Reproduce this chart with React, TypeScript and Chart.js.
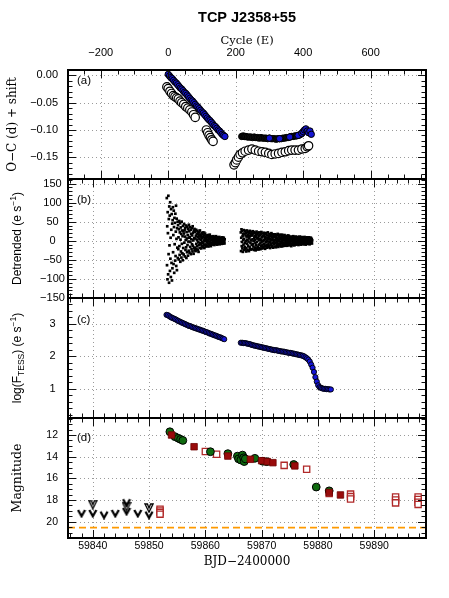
import React, { useEffect, useRef } from "react";
import { Chart, registerables } from "chart.js";

Chart.register(...registerables);

// ---------------- text ----------------
const TITLE = "TCP J2358+55";
const TOP_AXIS_TITLE = "Cycle (E)";
const BOTTOM_AXIS_TITLE = "BJD\u22122400000";
const A_LABEL = "O\u2212C (d) + shift";
const D_LABEL = "Magnitude";
const B_LABEL_PARTS = ["Detrended (e s", "\u22121", ")"];
const C_LABEL_PARTS = ["log(F", "TESS", ") (e s", "\u22121", ")"];
const LETTERS = ["(a)", "(b)", "(c)", "(d)"];

// ---------------- axes ----------------
const BJD_MIN = 59835.6;
const BJD_MAX = 59899.2;
const CYCLE_MIN = -297;
const CYCLE_MAX = 764;
const CYCLE_TICKS = [-200, 0, 200, 400, 600];
const BJD_TICKS = [59840, 59850, 59860, 59870, 59880, 59890];
const A_Y_TICKS = [0, -0.05, -0.1, -0.15];
const B_Y_TICKS = [-150, -100, -50, 0, 50, 100, 150];
const C_Y_TICKS = [1, 2, 3];
const D_Y_TICKS = [12, 14, 16, 18, 20];

// ---------------- panel (a): O-C ----------------
const A_BLUE_E = [0, 4, 8, 12, 16, 20, 24, 28, 32, 36, 40, 44, 48, 52, 56, 60, 64, 68, 72, 76, 80, 84, 88, 92, 96, 100, 104, 108, 112, 116, 120, 124, 128, 132, 136, 140, 144, 148, 152, 156, 160, 164, 168,
  300, 330, 360, 385, 396, 400, 404, 408, 412, 416, 420, 424];
const A_BLUE_OC = [0.002, -0.001, -0.004, -0.006, -0.009, -0.012, -0.014, -0.017, -0.02, -0.023, -0.025, -0.028, -0.031, -0.033, -0.036, -0.039, -0.042, -0.045, -0.047, -0.05, -0.053, -0.056, -0.058, -0.061, -0.064, -0.067, -0.069, -0.072, -0.075, -0.078, -0.081, -0.083, -0.086, -0.089, -0.092, -0.094, -0.097, -0.1, -0.102, -0.105, -0.108, -0.11, -0.112,
  -0.115, -0.116, -0.113, -0.11, -0.106, -0.103, -0.1, -0.098, -0.102, -0.105, -0.102, -0.108];
const A_BLACK_E = [218, 222, 226, 230, 235, 240, 245, 250, 255, 260, 265, 270, 275, 280, 285, 290, 295, 300, 305, 310, 315, 320, 325, 330, 335, 340, 345, 350, 355, 360, 365, 370, 375, 380, 385, 390, 395];
const A_BLACK_OC = [-0.112, -0.111, -0.112, -0.112, -0.113, -0.113, -0.113, -0.114, -0.113, -0.114, -0.114, -0.115, -0.114, -0.115, -0.115, -0.115, -0.116, -0.115, -0.116, -0.116, -0.116, -0.117, -0.116, -0.116, -0.116, -0.115, -0.115, -0.114, -0.114, -0.113, -0.112, -0.112, -0.111, -0.111, -0.11, -0.109, -0.107];
const A_OPEN_E = [-4, 0, 5, 10, 15, 20, 25, 30, 35, 40, 46, 52, 58, 64, 70, 75, 80,
  113, 117, 121, 125, 129, 133,
  195, 199, 203, 208, 213, 220, 228, 238, 248, 258, 268, 278, 288, 298, 307, 317, 327, 337, 347, 357, 366, 376, 386, 396, 406, 412, 416];
const A_OPEN_OC = [-0.021, -0.024, -0.029, -0.033, -0.037, -0.039, -0.041, -0.043, -0.047, -0.05, -0.053, -0.057, -0.06, -0.063, -0.067, -0.072, -0.077,
  -0.1, -0.105, -0.11, -0.114, -0.118, -0.121,
  -0.164, -0.16, -0.155, -0.15, -0.145, -0.142, -0.139, -0.137, -0.135, -0.137, -0.139, -0.14, -0.141, -0.143, -0.145, -0.144, -0.143, -0.141, -0.14, -0.138, -0.137, -0.137, -0.137, -0.135, -0.134, -0.131, -0.129];

// ---------------- panel (b): detrended flux (regular TESS cadence) ----------------
const B_STEP = 0.04;
const B_SEG1_START = 59853.15;
const B_SEG1 = [
  112, -64, 38, -101, 75, 20, -88, 118, -35, 57, -110, 90, -12, 66, -79, 101, -47, 8, -95, 83, 29, -58, 70, -104, 45,
  -72, 54, 88, -30, 15, -61, 79, 36, -84, 60, -9, 47, -52, 71, -40, 24, 92, -66, 5, 58, -77, 33, -18, 50, -45,
  41, -22, 9, -49, 30, 52, -14, -37, 22, 46, -55, 3, 35, -28, 18, -44, 50, -8, 27, -33, 12, -51, 39, -19, 25,
  -36, 19, 44, -5, 28, -41, 11, 33, -24, 2, 40, -17, -45, 23, 6, -30, 37, -11, 15, -39, 31, -2, -26, 42, 8,
  25, -31, 10, 36, -16, -3, 29, -35, 18, 4, -22, 33, -9, 14, -28, 38, -13, 21, 1, -34, 26, -19, 7, 31, -25,
  -18, 24, 6, -27, 13, 29, -8, -21, 17, 2, -14, 26, -24, 9, 20, -4, -29, 15, 22, -11, 4, -19, 27, -6, 11,
  16, -9, 3, -20, 12, 21, -14, 7, -3, 18, -17, 10, -6, 22, -12, 1, 14, -19, 8, -1, 19, -10, 5, -15, 11,
  -11, 8, 14, -4, 2, -13, 10, -7, 15, 0, -15, 6, 12, -9, 4, -2, 16, -12, 7, -5, 11, -14, 1, 9, -8,
  9, -6, 2, 11, -10, 5, -3, 12, -8, 0, 7, -11, 4, 10, -5, -1, 8, -9, 3, 12, -7, 1, -4, 6, -10,
  -7, 5, 9, -2, 1, -8, 6, -4, 10, 0, -9, 3, 7, -6, 2, -1, 8, -5, 4, -8, 6, -3, 9, -7, 1,
  5, -6, 2, 8, -4, 0, -7, 4,
];
const B_SEG2_START = 59866.3;
const B_SEG2 = [
  22, -27, 8, 30, -14, -3, 25, -20, 12, -29, 17, 2, -10, 28, -24, 5, 19, -16, -6, 26, -22, 14, -1, 21, -28,
  -19, 11, 27, -8, 3, -25, 16, 24, -13, -2, 20, -27, 9, 6, -17, 26, -21, 13, -5, 18, -23, 1, 23, -11, 15,
  14, -22, 4, 25, -9, 19, -15, -1, 23, -24, 8, 12, -18, 2, 21, -6, -25, 16, 10, -12, 24, -3, -20, 6, 17,
  -16, 20, 7, -23, 13, 1, -10, 22, -19, 5, 15, -7, -22, 18, 3, -14, 23, -4, 9, -20, 11, -12, 19, -1, -17,
  12, -19, 2, 21, -8, 16, -13, 5, -21, 9, 18, -4, -15, 20, 1, -11, 14, -18, 7, -2, 22, -16, 4, -9, 13,
  -14, 9, 18, -3, 5, -19, 12, 0, -11, 16, -7, 20, -16, 3, 10, -13, 6, 17, -5, -18, 14, 1, -9, 11, -2,
  10, -15, 3, 17, -6, 12, -17, 1, 8, -10, 15, -4, -13, 6, 18, -8, 2, -16, 11, -1, 14, -12, 5, -7, 16,
  -12, 7, 14, -2, 4, -15, 9, -6, 16, 0, -10, 12, -14, 3, 8, -5, 13, -11, 1, 15, -8, 6, -13, 10, -3,
  9, -11, 2, 13, -5, 7, -13, 0, 11, -8, 4, 14, -10, 1, -3, 12, -12, 6, -6, 10, -1, 8, -9, 3, -14,
  -9, 6, 11, -2, 3, -11, 8, -5, 12, 0, -8, 5, 10, -12, 2, -4, 9, -7, 1, 11, -10, 4, -3, 7, -6,
  7, -9, 1, 10, -4, 5, -11, 0, 9, -6, 3, 11, -8, 2, -2, 8, -10, 4, -5, 10, -1, 6, -7, 3, -9,
  -7, 5, 9, -1, 2, -9, 6, -4, 10, 0, -6, 4, 8, -10, 1, -3, 7, -5, 3, 9, -8, 2, -2, 6, -4,
  6, -8, 1, 9, -3, 4, -9, 0, 7, -5, 2, 8, -6, 3, -2, 5, -7, 1,
];

// ---------------- panel (c): log TESS flux ----------------
const C_STEP = 0.25;
const C_SEG1_START = 59853.1;
const C_SEG1 = [3.28, 3.27, 3.24, 3.21, 3.19, 3.17, 3.15, 3.13, 3.1, 3.08, 3.06, 3.04, 3.02, 3.0, 2.98, 2.96, 2.94, 2.93, 2.91, 2.89, 2.88, 2.86, 2.85, 2.83, 2.82, 2.8, 2.79, 2.77, 2.75, 2.74, 2.72, 2.7, 2.69, 2.67, 2.65, 2.64, 2.62, 2.6, 2.59, 2.57, 2.55, 2.53];
const C_SEG2_START = 59866.3;
const C_SEG2 = [2.42, 2.42, 2.41, 2.41, 2.4, 2.39, 2.38, 2.37, 2.35, 2.34, 2.33, 2.32, 2.31, 2.3, 2.29, 2.28, 2.27, 2.26, 2.25, 2.24, 2.23, 2.22, 2.21, 2.2, 2.19, 2.19, 2.18, 2.17, 2.16, 2.15, 2.15, 2.14, 2.13, 2.12, 2.11, 2.11, 2.1, 2.09, 2.08, 2.07, 2.06, 2.05, 2.04, 2.03, 2.02, 2.0, 1.97, 1.94, 1.9, 1.84, 1.75, 1.65, 1.52, 1.36, 1.22, 1.11, 1.05, 1.03, 1.01, 1.0, 1.0, 0.99, 0.99, 0.98, 0.98];

// ---------------- panel (d): magnitudes ----------------
const D_RED_T = [59854.0, 59858.0, 59864.0, 59868.0, 59870.0, 59871.0, 59872.0, 59875.9, 59882.0, 59884.0];
const D_RED_M = [12.0, 13.08, 13.94, 14.24, 14.37, 14.45, 14.55, 14.85, 17.3, 17.53];
const D_GREEN_T = [59853.7, 59854.6, 59855.2, 59855.6, 59856.0, 59860.9, 59864.0, 59865.7, 59865.9, 59866.3, 59866.6, 59866.8, 59866.9, 59867.1, 59868.8, 59870.2, 59870.9, 59875.7, 59879.7, 59882.0];
const D_GREEN_M = [11.7, 12.15, 12.3, 12.4, 12.5, 13.54, 13.72, 13.95, 14.2, 14.3, 13.85, 14.1, 14.45, 14.2, 14.15, 14.42, 14.46, 14.72, 16.8, 17.15];
const D_OPEN_T = [59851.95, 59851.95, 59851.95, 59851.95, 59860.0, 59862.0, 59874.0, 59878.0, 59882.0, 59885.8, 59885.8, 59885.8, 59893.8, 59893.8, 59893.8, 59897.8, 59897.8, 59897.8, 59897.8];
const D_OPEN_M = [18.85, 19.0, 19.15, 19.3, 13.52, 13.78, 14.8, 15.15, 17.4, 17.45, 17.68, 17.9, 17.72, 17.99, 18.26, 17.72, 17.95, 18.2, 18.4];
const D_UL_T = [59838.0, 59840.0, 59842.0, 59844.0, 59846.0, 59846.0, 59848.0, 59850.0];
const D_UL_M = [19.19, 19.19, 19.34, 19.19, 18.2, 19.0, 19.19, 19.34];
const D_UL_OPEN_T = [59840.0, 59846.0, 59850.0];
const D_UL_OPEN_M = [18.42, 18.6, 18.73];
const D_LIMIT_MAG = 20.55;

// ---------------- layout ----------------
const W = 449;
const H = 598;
const PLOT_L = 68;
const PLOT_R = 426;
const EDGES = [70, 179, 298, 418, 538];

const SANS = "'Liberation Sans', Arial, sans-serif";
const NARROW = "'Liberation Sans Narrow', 'Arial Narrow', 'Liberation Sans', sans-serif";
const SERIF = "'DejaVu Serif', serif";

const minus = (s: string) => s.replace(/-/g, "\u2212");

const pts = (xs: number[], ys: number[]) => xs.map((x, i) => ({ x, y: ys[i] }));
const cadence = (start: number, step: number, ys: number[]) => ys.map((y, i) => ({ x: start + i * step, y }));

type Seg = { t: string; size: number; dy: number; family: string };

function drawRotRich(ctx: CanvasRenderingContext2D, segs: Seg[], cx: number, cy: number) {
  ctx.save();
  const widths = segs.map((s) => {
    ctx.font = `${s.size}px ${s.family}`;
    return ctx.measureText(s.t).width;
  });
  const total = widths.reduce((a, b) => a + b, 0);
  ctx.translate(cx, cy);
  ctx.rotate(-Math.PI / 2);
  ctx.textAlign = "left";
  ctx.textBaseline = "middle";
  ctx.fillStyle = "#000";
  let x = -total / 2;
  segs.forEach((s, i) => {
    ctx.font = `${s.size}px ${s.family}`;
    ctx.fillText(s.t, x, s.dy);
    x += widths[i];
  });
  ctx.restore();
}

type Deco = {
  xTicks: number[];
  xMinor: number;
  yTicks: number[];
  yMinor: number;
  letter: string;
  letterDy: number;
  label: Seg[];
  labelX: number;
  title?: string;
};

function range(min: number, max: number, step: number) {
  const out: number[] = [];
  const lo = Math.min(min, max);
  const hi = Math.max(min, max);
  for (let k = Math.ceil(lo / step - 1e-9); k * step <= hi + 1e-9; k++) out.push(k * step);
  return out;
}

function decoPlugin(d: Deco) {
  return {
    id: "deco",
    beforeDatasetsDraw(chart: any) {
      const { ctx, chartArea: a } = chart;
      const xs = chart.scales.x;
      const ys = chart.scales.y;
      ctx.save();
      ctx.beginPath();
      ctx.rect(a.left, a.top, a.right - a.left, a.bottom - a.top);
      ctx.clip();
      ctx.strokeStyle = "#9a9a9a";
      ctx.lineWidth = 1;
      ctx.setLineDash([1, 3]);
      ctx.beginPath();
      for (const v of d.xTicks) {
        const p = Math.round(xs.getPixelForValue(v)) + 0.5;
        ctx.moveTo(p, a.top);
        ctx.lineTo(p, a.bottom);
      }
      for (const v of d.yTicks) {
        const p = Math.round(ys.getPixelForValue(v)) + 0.5;
        ctx.moveTo(a.left, p);
        ctx.lineTo(a.right, p);
      }
      ctx.stroke();
      ctx.restore();
    },
    afterDatasetsDraw(chart: any) {
      const { ctx, chartArea: a } = chart;
      const xs = chart.scales.x;
      const ys = chart.scales.y;
      const MAJ = 8;
      const MIN = 4.5;
      ctx.save();
      ctx.strokeStyle = "#111";
      ctx.lineWidth = 1;
      ctx.beginPath();
      const xt = (v: number, len: number) => {
        const p = Math.round(xs.getPixelForValue(v)) + 0.5;
        if (p < a.left || p > a.right) return;
        ctx.moveTo(p, a.top);
        ctx.lineTo(p, a.top + len);
        ctx.moveTo(p, a.bottom);
        ctx.lineTo(p, a.bottom - len);
      };
      const yt = (v: number, len: number) => {
        const p = Math.round(ys.getPixelForValue(v)) + 0.5;
        if (p < a.top || p > a.bottom) return;
        ctx.moveTo(a.left, p);
        ctx.lineTo(a.left + len, p);
        ctx.moveTo(a.right, p);
        ctx.lineTo(a.right - len, p);
      };
      range(xs.min, xs.max, d.xMinor).forEach((v) => xt(v, MIN));
      d.xTicks.forEach((v) => xt(v, MAJ));
      range(ys.min, ys.max, d.yMinor).forEach((v) => yt(v, MIN));
      d.yTicks.forEach((v) => yt(v, MAJ));
      ctx.stroke();
      ctx.lineWidth = 2;
      ctx.strokeStyle = "#000";
      ctx.strokeRect(a.left, a.top, a.right - a.left, a.bottom - a.top);
      ctx.fillStyle = "#000";
      ctx.font = `11.5px ${SANS}`;
      ctx.textAlign = "left";
      ctx.textBaseline = "middle";
      ctx.fillText(d.letter, a.left + 9, a.top + d.letterDy);
      if (d.title) {
        ctx.font = `bold 14.5px ${SANS}`;
        ctx.textAlign = "center";
        ctx.fillText(d.title, (a.left + a.right) / 2, 17.5);
      }
      ctx.restore();
      drawRotRich(ctx, d.label, d.labelX, (a.top + a.bottom) / 2);
    },
  };
}

function yScale(min: number, max: number, ticks: number[], fmt: (v: number) => string, font: any, padding: number, crossAlign: string, reverse = false) {
  return {
    type: "linear",
    min,
    max,
    reverse,
    afterBuildTicks: (s: any) => {
      s.ticks = ticks.map((v) => ({ value: v }));
    },
    afterFit: (s: any) => {
      s.width = PLOT_L;
    },
    ticks: { callback: (v: any) => fmt(Number(v)), font, color: "#000", padding, crossAlign, autoSkip: false },
    grid: { display: false, drawTicks: false },
    border: { display: false },
  };
}

function baseOptions(top: number, bottom: number, scales: any) {
  return {
    animation: false,
    responsive: false,
    events: [],
    layout: { padding: { left: 0, right: W - PLOT_R, top, bottom } },
    plugins: {
      legend: { display: false },
      tooltip: { enabled: false },
      title: { display: false },
    },
    scales,
  };
}

function chevron(filled: boolean) {
  const c = document.createElement("canvas");
  c.width = 10;
  c.height = 10;
  const g = c.getContext("2d")!;
  g.strokeStyle = "#000";
  if (filled) {
    g.lineWidth = 2.3;
    g.lineJoin = "miter";
    g.beginPath();
    g.moveTo(1.5, 2);
    g.lineTo(5, 8.2);
    g.lineTo(8.5, 2);
    g.stroke();
  } else {
    g.lineWidth = 1.3;
    g.lineJoin = "miter";
    g.beginPath();
    g.moveTo(1, 1);
    g.lineTo(3.4, 1);
    g.lineTo(5, 5);
    g.lineTo(6.6, 1);
    g.lineTo(9, 1);
    g.lineTo(5, 9.2);
    g.closePath();
    g.stroke();
  }
  return c;
}

function bjdAxisHidden() {
  return { type: "linear", min: BJD_MIN, max: BJD_MAX, display: false };
}

function buildA(canvas: HTMLCanvasElement) {
  const scales = {
    x: {
      type: "linear",
      position: "top",
      min: CYCLE_MIN,
      max: CYCLE_MAX,
      afterBuildTicks: (s: any) => {
        s.ticks = CYCLE_TICKS.map((v) => ({ value: v }));
      },
      afterFit: (s: any) => {
        s.height = 40;
      },
      ticks: { callback: (v: any) => minus(String(v)), font: { family: SANS, size: 11 }, color: "#000", padding: 10, autoSkip: false, maxRotation: 0 },
      grid: { display: false, drawTicks: false },
      border: { display: false },
      title: { display: true, text: TOP_AXIS_TITLE, color: "#000", font: { family: SERIF, size: 11.5 }, padding: { top: 4.6, bottom: 0 } },
    },
    y: yScale(-0.19, 0.01, A_Y_TICKS, (v) => minus(v.toFixed(2)), { family: SANS, size: 11 }, 10, "near"),
  };
  return new Chart(canvas, {
    type: "scatter",
    data: {
      datasets: [
        { data: pts(A_BLUE_E, A_BLUE_OC), pointStyle: "circle", pointRadius: 3.2, pointBackgroundColor: "#1414d2", pointBorderColor: "#000", pointBorderWidth: 1 },
        { data: pts(A_BLACK_E, A_BLACK_OC), pointStyle: "circle", pointRadius: 3.2, pointBackgroundColor: "#111", pointBorderColor: "#000", pointBorderWidth: 1 },
        { data: pts(A_OPEN_E, A_OPEN_OC), pointStyle: "circle", pointRadius: 4.2, pointBackgroundColor: "#fff", pointBorderColor: "#000", pointBorderWidth: 1.2 },
      ],
    },
    options: baseOptions(30, H - EDGES[1], scales) as any,
    plugins: [
      decoPlugin({
        xTicks: CYCLE_TICKS,
        xMinor: 50,
        yTicks: A_Y_TICKS,
        yMinor: 0.01,
        letter: LETTERS[0],
        letterDy: 10.5,
        label: [{ t: A_LABEL, size: 12, dy: 0, family: SERIF }],
        labelX: 13,
        title: TITLE,
      }),
    ],
  } as any);
}

function buildB(canvas: HTMLCanvasElement) {
  const scales = {
    x: bjdAxisHidden(),
    y: yScale(-150, 162, B_Y_TICKS, (v) => minus(String(v)), { family: SANS, size: 11 }, 3.1, "center"),
  };
  const style = { pointStyle: "rect", pointRadius: 1.9, pointBackgroundColor: "#000", pointBorderWidth: 0 };
  return new Chart(canvas, {
    type: "scatter",
    data: {
      datasets: [
        { data: cadence(B_SEG1_START, B_STEP, B_SEG1), ...style },
        { data: cadence(B_SEG2_START, B_STEP, B_SEG2), ...style },
      ],
    },
    options: baseOptions(EDGES[1], H - EDGES[2], scales) as any,
    plugins: [
      decoPlugin({
        xTicks: BJD_TICKS,
        xMinor: 2,
        yTicks: B_Y_TICKS,
        yMinor: 10,
        letter: LETTERS[1],
        letterDy: 21,
        label: [
          { t: B_LABEL_PARTS[0], size: 12, dy: 0, family: SANS },
          { t: B_LABEL_PARTS[1], size: 8.5, dy: -4.5, family: SANS },
          { t: B_LABEL_PARTS[2], size: 12, dy: 0, family: SANS },
        ],
        labelX: 18,
      }),
    ],
  } as any);
}

function buildC(canvas: HTMLCanvasElement) {
  const scales = {
    x: bjdAxisHidden(),
    y: yScale(0.1, 3.8, C_Y_TICKS, (v) => String(v), { family: SANS, size: 11 }, 12.4, "center"),
  };
  const style = { pointStyle: "circle", pointRadius: 2.6, pointBackgroundColor: "#1515d8", pointBorderColor: "#000", pointBorderWidth: 0.9 };
  return new Chart(canvas, {
    type: "scatter",
    data: {
      datasets: [
        { data: cadence(C_SEG1_START, C_STEP, C_SEG1), ...style },
        { data: cadence(C_SEG2_START, C_STEP, C_SEG2), ...style },
      ],
    },
    options: baseOptions(EDGES[2], H - EDGES[3], scales) as any,
    plugins: [
      decoPlugin({
        xTicks: BJD_TICKS,
        xMinor: 2,
        yTicks: C_Y_TICKS,
        yMinor: 0.2,
        letter: LETTERS[2],
        letterDy: 22,
        label: [
          { t: C_LABEL_PARTS[0], size: 12, dy: 0, family: SANS },
          { t: C_LABEL_PARTS[1], size: 8.5, dy: 3.5, family: SANS },
          { t: C_LABEL_PARTS[2], size: 12, dy: 0, family: SANS },
          { t: C_LABEL_PARTS[3], size: 8.5, dy: -4.5, family: SANS },
          { t: C_LABEL_PARTS[4], size: 12, dy: 0, family: SANS },
        ],
        labelX: 18,
      }),
    ],
  } as any);
}

function buildD(canvas: HTMLCanvasElement) {
  const scales = {
    x: {
      type: "linear",
      position: "bottom",
      min: BJD_MIN,
      max: BJD_MAX,
      afterBuildTicks: (s: any) => {
        s.ticks = BJD_TICKS.map((v) => ({ value: v }));
      },
      afterFit: (s: any) => {
        s.height = 40;
      },
      ticks: { callback: (v: any) => String(v), font: { family: NARROW, size: 10.5 }, color: "#000", padding: 2.2, autoSkip: false, maxRotation: 0 },
      grid: { display: false, drawTicks: false },
      border: { display: false },
      title: { display: true, text: BOTTOM_AXIS_TITLE, color: "#000", font: { family: SERIF, size: 12 }, padding: { top: 0, bottom: 9.3 } },
    },
    y: yScale(10.43, 21.5, D_Y_TICKS, (v) => String(v), { family: NARROW, size: 10.5 }, 10, "near", true),
  };
  const ulFilled = chevron(true);
  const ulOpen = chevron(false);
  return new Chart(canvas, {
    type: "scatter",
    data: {
      datasets: [
        { data: pts(D_RED_T, D_RED_M), pointStyle: "rect", pointRadius: 4.6, pointBackgroundColor: "#990b0b", pointBorderColor: "#6e0000", pointBorderWidth: 0.8 },
        { data: pts(D_GREEN_T, D_GREEN_M), pointStyle: "circle", pointRadius: 3.9, pointBackgroundColor: "#0f6b0f", pointBorderColor: "#000", pointBorderWidth: 1 },
        { data: pts(D_OPEN_T, D_OPEN_M), pointStyle: "rect", pointRadius: 4.4, pointBackgroundColor: "#fff", pointBorderColor: "#b02828", pointBorderWidth: 1.3 },
        { data: pts(D_UL_T, D_UL_M), pointStyle: ulFilled, pointRadius: 4 },
        { data: pts(D_UL_OPEN_T, D_UL_OPEN_M), pointStyle: ulOpen, pointRadius: 4 },
        {
          data: [
            { x: BJD_MIN, y: D_LIMIT_MAG },
            { x: BJD_MAX, y: D_LIMIT_MAG },
          ],
          showLine: true,
          pointRadius: 0,
          borderColor: "#ff9a00",
          borderWidth: 1.8,
          borderDash: [7, 4],
        },
      ],
    },
    options: baseOptions(EDGES[3], 20, scales) as any,
    plugins: [
      decoPlugin({
        xTicks: BJD_TICKS,
        xMinor: 2,
        yTicks: D_Y_TICKS,
        yMinor: 0.5,
        letter: LETTERS[3],
        letterDy: 20,
        label: [{ t: D_LABEL, size: 12.5, dy: 0, family: SERIF }],
        labelX: 18,
      }),
    ],
  } as any);
}

export default function App() {
  const r0 = useRef<HTMLCanvasElement>(null);
  const r1 = useRef<HTMLCanvasElement>(null);
  const r2 = useRef<HTMLCanvasElement>(null);
  const r3 = useRef<HTMLCanvasElement>(null);

  useEffect(() => {
    Chart.defaults.color = "#000";
    Chart.defaults.font.family = SANS;
    const charts = [buildA(r0.current!), buildB(r1.current!), buildC(r2.current!), buildD(r3.current!)];
    return () => charts.forEach((c) => c.destroy());
  }, []);

  const cs: React.CSSProperties = { position: "absolute", left: 0, top: 0, width: W, height: H };
  return (
    <div style={{ position: "absolute", left: 0, top: 0, width: W, height: H, background: "#fff", overflow: "hidden" }}>
      <canvas ref={r0} width={W} height={H} style={cs} />
      <canvas ref={r1} width={W} height={H} style={cs} />
      <canvas ref={r2} width={W} height={H} style={cs} />
      <canvas ref={r3} width={W} height={H} style={cs} />
    </div>
  );
}
